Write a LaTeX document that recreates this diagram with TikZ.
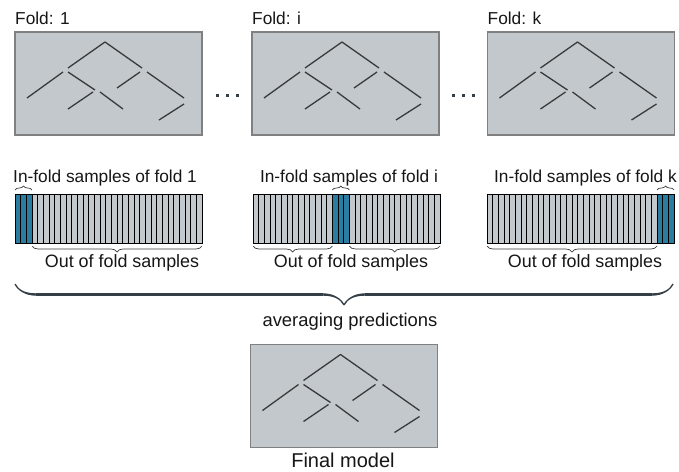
\documentclass[tikz,border=0pt]{standalone}
\usepackage{fontspec}
\setmainfont{Liberation Sans}
\usetikzlibrary{calc,decorations.pathreplacing,calligraphy}

\definecolor{boxgrey}{RGB}{195,200,205}
\definecolor{framegrey}{RGB}{128,128,128}
\definecolor{treegrey}{RGB}{58,58,58}
\definecolor{cellblue}{RGB}{42,124,160}
\definecolor{bracegrey}{RGB}{52,62,70}
\definecolor{textdark}{RGB}{22,22,22}

\tikzset{
  modelbox/.style={draw=framegrey, fill=boxgrey, line width=1.1pt, minimum width=187pt, minimum height=103pt, inner sep=0pt, outer sep=0pt},
  barbox/.style={draw=black, line width=1pt, minimum width=187pt, minimum height=49pt, inner sep=0pt, outer sep=0pt},
  cell/.style={draw=black, fill=boxgrey, line width=0.7pt},
  bluecell/.style={draw=black, fill=cellblue, line width=0.7pt},
  lbl/.style={text=textdark, inner sep=0pt, font=\fontsize{17.3}{20}\selectfont},
  infold/.style={decorate, decoration={brace, amplitude=4pt}, draw=treegrey, line width=0.7pt},
  outfold/.style={decorate, decoration={brace, amplitude=6pt, mirror}, draw=treegrey, line width=0.7pt},
  tree/.pic={
    \draw[treegrey, line width=1.3pt]
      (90,10) -- (53,36)  (90,10) -- (127,36)
      (48,40) -- (12,66)  (53,40) -- (80,58)
      (125,40) -- (102,56)  (132,40) -- (169,66)
      (78,60) -- (53,77)  (85,60) -- (108,77)
      (169,72) -- (144,88);
  }
}

\newcommand{\cellbar}[2]{% bar name, first blue cell
  \begin{scope}[shift={(#1.north west)}]
    \foreach \i in {0,...,32}
      \filldraw[cell] (\i*5.667,0) rectangle +(5.667,49);
    \foreach \i in {#2,...,\the\numexpr#2+2\relax}
      \filldraw[bluecell] (\i*5.667,0) rectangle +(5.667,49);
  \end{scope}
  \draw[line width=1pt] (#1.north west) rectangle (#1.south east);
}

\begin{document}
\begin{tikzpicture}[x=1pt, y=-1pt]
\useasboundingbox (0,0) rectangle (679,471);

% Fold models
\node[modelbox] (fold1) at (108.5,83.5) {};
\node[modelbox] (foldi) at (345.5,83.5) {};
\node[modelbox] (foldk) at (581,83.5) {};
\foreach \b in {fold1, foldi, foldk}
  \pic at (\b.north west) {tree};

\node[lbl, anchor=base west] (t1) at ([yshift=8pt]fold1.north west) {Fold: 1};
\node[lbl, anchor=base west] (ti) at ([yshift=8pt]foldi.north west) {Fold: i};
\node[lbl, anchor=base west] (tk) at ([yshift=8pt]foldk.north west) {Fold: k};

% Dots between folds
\coordinate (d1) at ($(fold1.east)!0.5!(foldi.west)+(0,12)$);
\coordinate (d2) at ($(foldi.east)!0.5!(foldk.west)+(0,12)$);
\foreach \c in {d1, d2}
  \foreach \dx in {-10,0,10}
    \fill[bracegrey] ($(\c)+(\dx-1.5,-1.5)$) rectangle +(3,3);

% Sample bars
\node[barbox] (bar1) at (108.5,218.5) {};
\node[barbox] (bari) at (346.5,218.5) {};
\node[barbox] (bark) at (580.5,218.5) {};
\cellbar{bar1}{0}
\cellbar{bari}{14}
\cellbar{bark}{30}

\node[lbl, anchor=base west] (in1) at (13,182) {In-fold samples of fold 1};
\node[lbl, anchor=base] (ini) at (349,182) {In-fold samples of fold i};
\node[lbl, anchor=base east] (ink) at (677,182) {In-fold samples of fold k};

% Braces on the bars
\coordinate (b1a) at ($(bar1.north west)!3/33!(bar1.north east)$);
\coordinate (bia) at ($(bari.north west)!14/33!(bari.north east)$);
\coordinate (bib) at ($(bari.north west)!17/33!(bari.north east)$);
\coordinate (bka) at ($(bark.north west)!30/33!(bark.north east)$);

\draw[infold] ([yshift=4pt]bar1.north west) -- ([yshift=4pt]b1a);
\draw[infold] ([yshift=4pt]bia) -- ([yshift=4pt]bib);
\draw[infold] ([yshift=4pt]bka) -- ([yshift=4pt]bark.north east);

\draw[outfold] ([yshift=-52pt]b1a) -- ([yshift=-3pt]bar1.south east);
\draw[outfold] ([yshift=-3pt]bari.south west) -- ([yshift=-52pt]bia);
\draw[outfold] ([yshift=-52pt]bib) -- ([yshift=-3pt]bari.south east);
\draw[outfold] ([yshift=-3pt]bark.south west) -- ([yshift=-52pt]bka);

\node[lbl, anchor=base, font=\fontsize{17.9}{21}\selectfont] (o1) at (122,267) {Out of fold samples};
\node[lbl, anchor=base, font=\fontsize{17.9}{21}\selectfont] (oi) at (351,267) {Out of fold samples};
\node[lbl, anchor=base, font=\fontsize{17.9}{21}\selectfont] (ok) at (585,267) {Out of fold samples};

% Averaging brace
\coordinate (avl) at (15,284);
\coordinate (avr) at (673,284);
\draw[decorate, decoration={calligraphic brace, amplitude=21pt, mirror}, pen colour={bracegrey}, line width=2.4pt] (avl) -- (avr);
\node[lbl, anchor=base, font=\fontsize{18.4}{21}\selectfont] (avg) at (350,326) {averaging predictions};

% Final model
\node[modelbox] (final) at (344,396) {};
\pic at (final.north west) {tree};
\node[lbl, anchor=base, font=\fontsize{20}{23}\selectfont] (fm) at (343,467) {Final model};

\end{tikzpicture}
\end{document}
